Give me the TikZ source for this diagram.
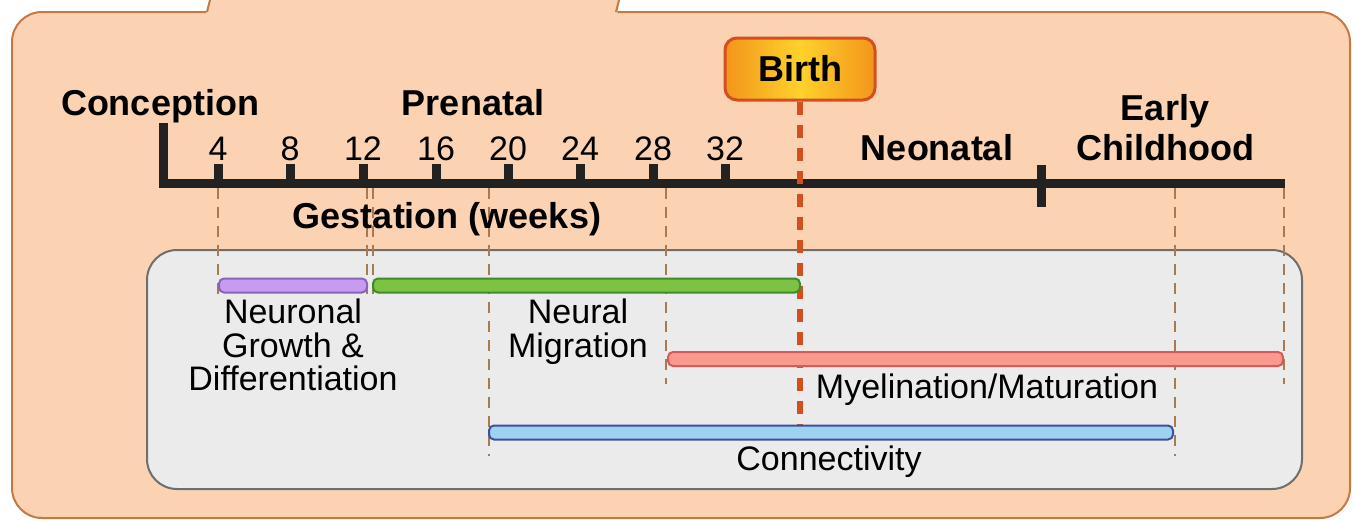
\documentclass[tikz,border=0pt]{standalone}
\usepackage{fontspec}
\setmainfont{Liberation Sans}
\definecolor{peach}{HTML}{FBD3B3}
\definecolor{peachline}{HTML}{C27B45}
\definecolor{panel}{HTML}{EBEBEB}
\definecolor{panelline}{HTML}{6E6E6E}
\definecolor{axiscol}{HTML}{222222}
\definecolor{birthdash}{HTML}{D2501E}
\definecolor{guide}{HTML}{A87A52}
\definecolor{birthorange}{HTML}{F3951B}
\definecolor{birthyellow}{HTML}{FDD22B}
\definecolor{birthline}{HTML}{D24F24}
\definecolor{purplefill}{HTML}{C79BF2}
\definecolor{purpleline}{HTML}{8A63B8}
\definecolor{greenfill}{HTML}{7DC242}
\definecolor{greenline}{HTML}{3F8A2C}
\definecolor{redfill}{HTML}{FA9A8C}
\definecolor{redline}{HTML}{D65A5A}
\definecolor{bluefill}{HTML}{9DD3EF}
\definecolor{blueline}{HTML}{3F4FA0}
\begin{document}
\begin{tikzpicture}[x=1pt,y=-1pt,
  boldtext/.style={font=\fontsize{36}{40}\selectfont\bfseries, inner sep=0pt, align=center},
  regtext/.style={font=\fontsize{34}{33.5}\selectfont, inner sep=0pt, align=center},
  guideline/.style={draw=guide, line width=1.8pt, dash pattern=on 11pt off 8pt},
  axisline/.style={draw=axiscol, line width=9pt},
  barbox/.style={line width=2pt, rounded corners=5pt, minimum height=14pt, inner sep=0pt},
]
\useasboundingbox (0,0) rectangle (1354,520);
\clip (0,0) rectangle (1354,520);

% outer frame with tab
\draw[fill=peach, draw=peachline, line width=2pt, rounded corners=30pt] (12,12) rectangle (1350,518);
\fill[peach] (206,14) -- (213,-14) -- (623,-14) -- (617,14) -- cycle;
\draw[peachline, line width=2pt] (207,12) -- (213,-12) (616,12) -- (622,-12);

% inner panel
\draw[fill=panel, draw=panelline, line width=2pt, rounded corners=30pt] (147,250) rectangle (1302,489);

% guide lines
\foreach \gx/\gy in {218/300, 367/300, 373/300, 489/456, 666/384, 1175/456, 1284/384}{
  \draw[guideline] (\gx,188) -- (\gx,\gy);
}

% axis
\draw[axisline] (163,123) -- (163,183) -- (1285,183);
\foreach \x/\l in {218/4, 290/8, 363/12, 436/16, 508/20, 580/24, 653/28, 725/32}{
  \draw[axisline] (\x,164) -- (\x,183);
  \node[regtext, anchor=base] (t\l) at (\x,160) {\l};
}
\draw[axisline] (1041,165) -- (1041,207);

% labels
\node[boldtext, anchor=base] (conception) at (160,115) {Conception};
\node[boldtext, anchor=base] (prenatal) at (473,115) {Prenatal};
\node[boldtext, anchor=base] (gestation) at (447,228) {Gestation (weeks)};
\node[boldtext, anchor=base] (neonatal) at (937,160) {Neonatal};
\node[boldtext, anchor=base] (early) at (1165,120) {Early};
\node[boldtext, anchor=base] (childhood) at (1165,160) {Childhood};

% birth
\node[boldtext, draw=birthline, line width=3pt, rounded corners=12pt,
      left color=birthorange, right color=birthorange, middle color=birthyellow,
      minimum width=150pt, minimum height=62pt] (birth) at (800,69) {Birth};
\coordinate (birthend) at (800,425);
\draw[birthdash, line width=6pt, dash pattern=on 13pt off 10pt] (birth.south) -- (birthend);

% bars
\node[barbox, fill=purplefill, draw=purpleline, minimum width=148pt] (neuronal) at (293,285.5) {};
\node[barbox, fill=greenfill, draw=greenline, minimum width=427pt] (migration) at (586.5,285.5) {};
\node[barbox, fill=redfill, draw=redline, minimum width=615pt] (myelin) at (975.5,359) {};
\node[barbox, fill=bluefill, draw=blueline, minimum width=684pt] (connect) at (831,432.5) {};

% bar labels
\node[regtext, anchor=base] (l1a) at (293,323) {Neuronal};
\node[regtext, anchor=base] (l1b) at (293,357) {Growth \&};
\node[regtext, anchor=base] (l1c) at (293,390) {Differentiation};
\node[regtext, anchor=base] (l2a) at (578,323) {Neural};
\node[regtext, anchor=base] (l2b) at (578,357) {Migration};
\node[regtext, anchor=base] (l3) at (987,398) {Myelination/Maturation};
\node[regtext, anchor=base] (l4) at (829,470) {Connectivity};
\end{tikzpicture}
\end{document}
